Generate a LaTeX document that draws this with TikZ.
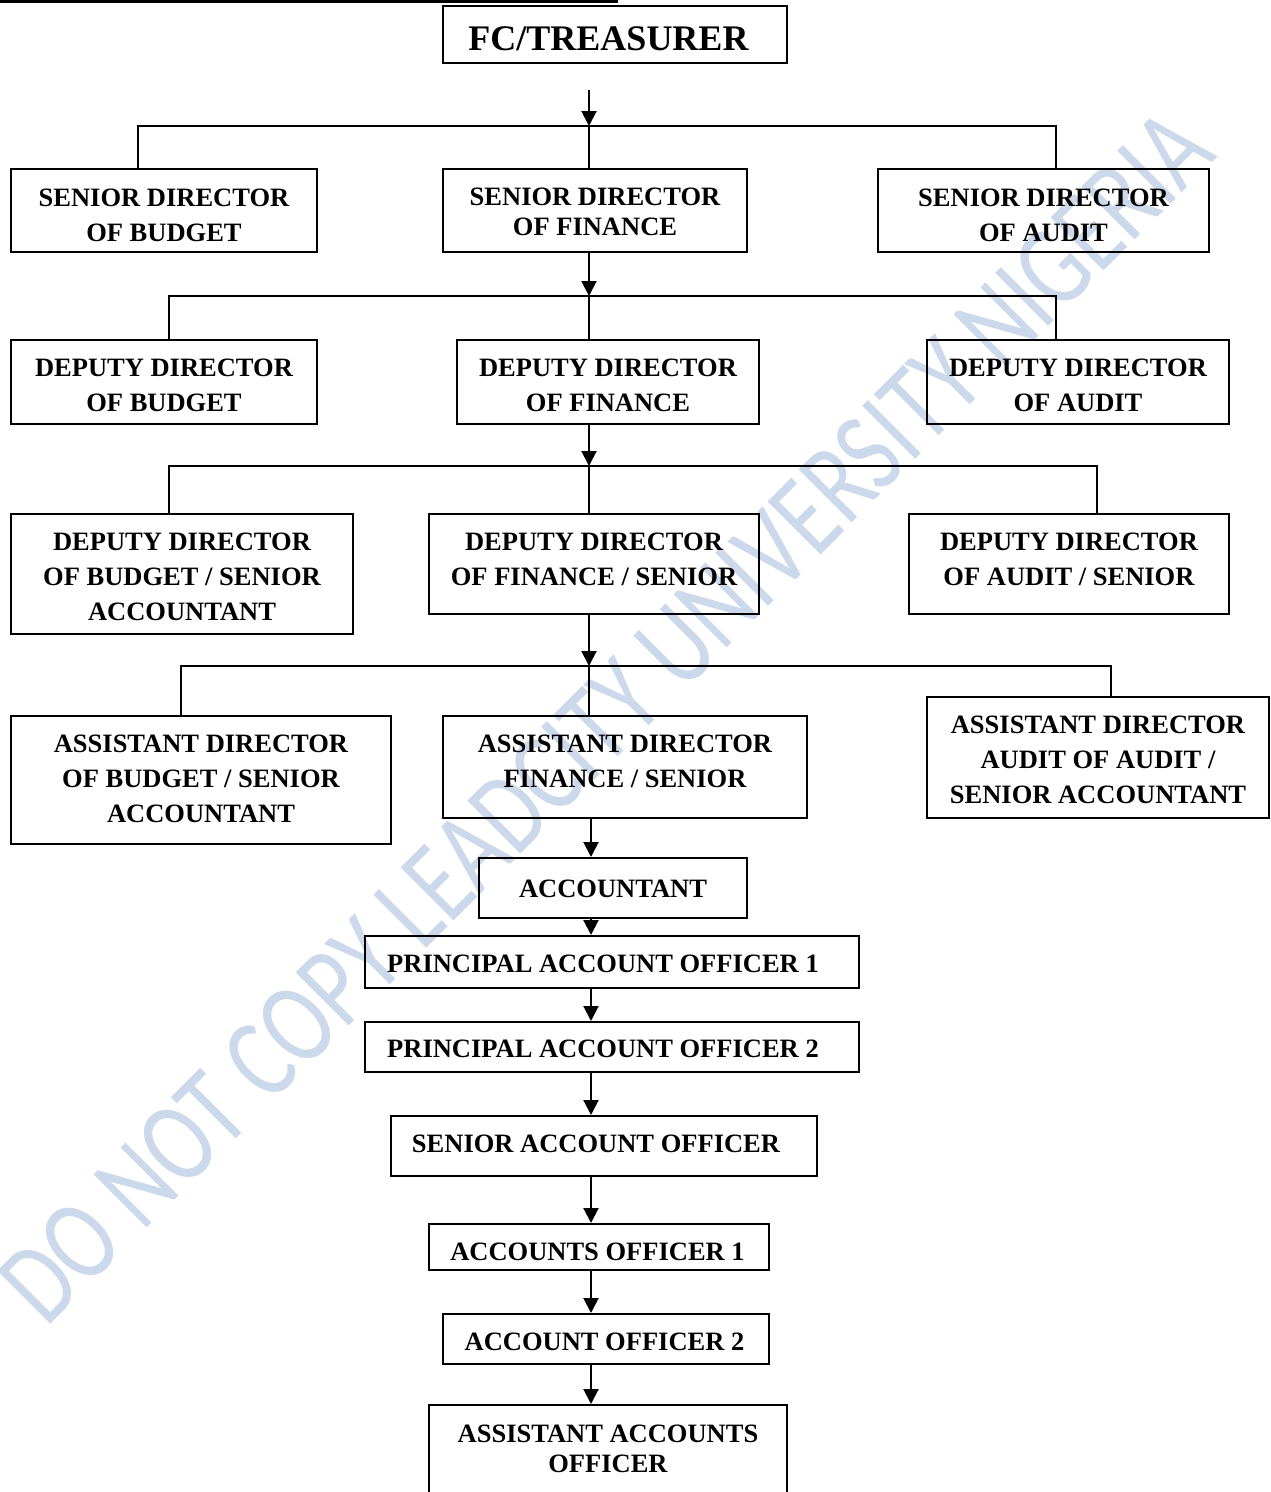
\documentclass[tikz,border=0pt]{standalone}
\usepackage{fontspec}
\setmainfont{Liberation Serif}
\newfontfamily\wmfont{Carlito}
\usetikzlibrary{arrows.meta}
\definecolor{wmblue}{RGB}{204,217,235}
\begin{document}
\begin{tikzpicture}[x=1pt,y=-1pt,
  box/.style={draw, line width=2pt, inner sep=0pt, align=center, text depth=0pt,
    font=\bfseries\fontsize{26.5}{35}\selectfont},
  tight/.style={font=\bfseries\fontsize{26.5}{30}\selectfont},
  conn/.style={line width=2pt},
  arr/.style={line width=2pt, -{Triangle[width=15pt,length=15pt]}},
  wm/.style={text=wmblue, inner sep=0pt, font=\wmfont\fontsize{90}{90}\selectfont}]
\useasboundingbox (0,0) rectangle (1270,1492);
% watermark
\node[wm, rotate=45] (wmark) at (606,716) {\scalebox{1}[1.3]{DO NOT COPY LEADCITY UNIVERSITY NIGERIA}};
% top rule
\coordinate (ruleA) at (0,1);
\coordinate (ruleB) at (618,1);
\draw[line width=3pt] (ruleA) -- (ruleB);
% boxes
\node[box, minimum width=344, minimum height=57, text height=32pt, font=\bfseries\fontsize{36}{40}\selectfont] (fc) at (615,34) {FC/TREASURER\hspace*{13pt}};
\node[box, minimum width=306, minimum height=83, text height=62pt] (sdb) at (164,210.5) {SENIOR DIRECTOR\\OF BUDGET};
\node[box, tight, minimum width=304, minimum height=83, text height=49pt] (sdf) at (595,210.5) {SENIOR DIRECTOR\\OF FINANCE};
\node[box, minimum width=331, minimum height=83, text height=61pt] (sda) at (1043.5,210.5) {SENIOR DIRECTOR\\OF AUDIT};
\node[box, minimum width=306, minimum height=84, text height=58pt] (ddb) at (164,382) {DEPUTY DIRECTOR\\OF BUDGET};
\node[box, minimum width=302, minimum height=84, text height=58pt] (ddf) at (608,382) {DEPUTY DIRECTOR\\OF FINANCE};
\node[box, minimum width=302, minimum height=84, text height=58pt] (dda) at (1078,382) {DEPUTY DIRECTOR\\OF AUDIT};
\node[box, minimum width=342, minimum height=120, text height=92pt] (dsb) at (182,574) {DEPUTY DIRECTOR\\OF BUDGET / SENIOR\\ACCOUNTANT};
\node[box, minimum width=330, minimum height=100, text height=42pt] (dsf) at (594,564) {DEPUTY DIRECTOR\\OF FINANCE / SENIOR};
\node[box, minimum width=320, minimum height=100, text height=42pt] (dsa) at (1069,564) {DEPUTY DIRECTOR\\OF AUDIT / SENIOR};
\node[box, minimum width=380, minimum height=128, text height=84pt] (adb) at (201,780) {ASSISTANT DIRECTOR\\OF BUDGET / SENIOR\\ACCOUNTANT};
\node[box, minimum width=364, minimum height=102, text height=40pt] (adf) at (625,767) {ASSISTANT DIRECTOR\\FINANCE / SENIOR};
\node[box, minimum width=342, minimum height=121, text height=91pt] (ada) at (1098,757.5) {ASSISTANT DIRECTOR\\AUDIT OF AUDIT /\\SENIOR ACCOUNTANT};
\node[box, minimum width=268, minimum height=60, text height=18pt] (acc) at (613,888) {ACCOUNTANT};
\node[box, minimum width=494, minimum height=52, text height=20pt] (pao1) at (612,962) {PRINCIPAL ACCOUNT OFFICER 1\hspace*{18pt}};
\node[box, minimum width=494, minimum height=50, text height=20pt] (pao2) at (612,1047) {PRINCIPAL ACCOUNT OFFICER 2\hspace*{18pt}};
\node[box, minimum width=426, minimum height=60, text height=12pt] (sao) at (604,1146) {SENIOR ACCOUNT OFFICER\hspace*{16pt}};
\node[box, minimum width=340, minimum height=46, text height=26pt] (ao1) at (599,1247) {ACCOUNTS OFFICER 1\hspace*{3pt}};
\node[box, minimum width=326, minimum height=50, text height=22pt] (ao2) at (606,1339) {ACCOUNT OFFICER 2\hspace*{3pt}};
\node[box, tight, minimum width=358, minimum height=90, text height=44pt] (aao) at (608,1450) {ASSISTANT ACCOUNTS\\OFFICER};
% junctions
\coordinate (fcarr) at (589,90);
\coordinate (j1) at (589,126);
\coordinate (j1l) at (138,126);
\coordinate (j1r) at (1056,126);
\coordinate (j2) at (589,296);
\coordinate (j2l) at (169,296);
\coordinate (j2r) at (1056,296);
\coordinate (j3) at (589,466);
\coordinate (j3l) at (169,466);
\coordinate (j3r) at (1097,466);
\coordinate (j4) at (589,666);
\coordinate (j4l) at (181,666);
\coordinate (j4r) at (1111,666);
\coordinate (cx) at (591,0);
% level 1
\draw[arr] (fcarr) -- (j1);
\draw[conn] (j1l |- sdb.north) -- (j1l) -- (j1r) -- (j1r |- sda.north);
\draw[conn] (j1) -- (j1 |- sdf.north);
% level 2
\draw[arr] (sdf.south -| j2) -- (j2);
\draw[conn] (j2l |- ddb.north) -- (j2l) -- (j2r) -- (j2r |- dda.north);
\draw[conn] (j2) -- (j2 |- ddf.north);
% level 3
\draw[arr] (ddf.south -| j3) -- (j3);
\draw[conn] (j3l |- dsb.north) -- (j3l) -- (j3r) -- (j3r |- dsa.north);
\draw[conn] (j3) -- (j3 |- dsf.north);
% level 4
\draw[arr] (dsf.south -| j4) -- (j4);
\draw[conn] (j4l |- adb.north) -- (j4l) -- (j4r) -- (j4r |- ada.north);
\draw[conn] (j4) -- (j4 |- adf.north);
% chain
\draw[arr] (adf.south -| cx) -- (acc.north -| cx);
\draw[arr] (acc.south -| cx) -- (pao1.north -| cx);
\draw[arr] (pao1.south -| cx) -- (pao2.north -| cx);
\draw[arr] (pao2.south -| cx) -- (sao.north -| cx);
\draw[arr] (sao.south -| cx) -- (ao1.north -| cx);
\draw[arr] (ao1.south -| cx) -- (ao2.north -| cx);
\draw[arr] (ao2.south -| cx) -- (aao.north -| cx);
\end{tikzpicture}
\end{document}
